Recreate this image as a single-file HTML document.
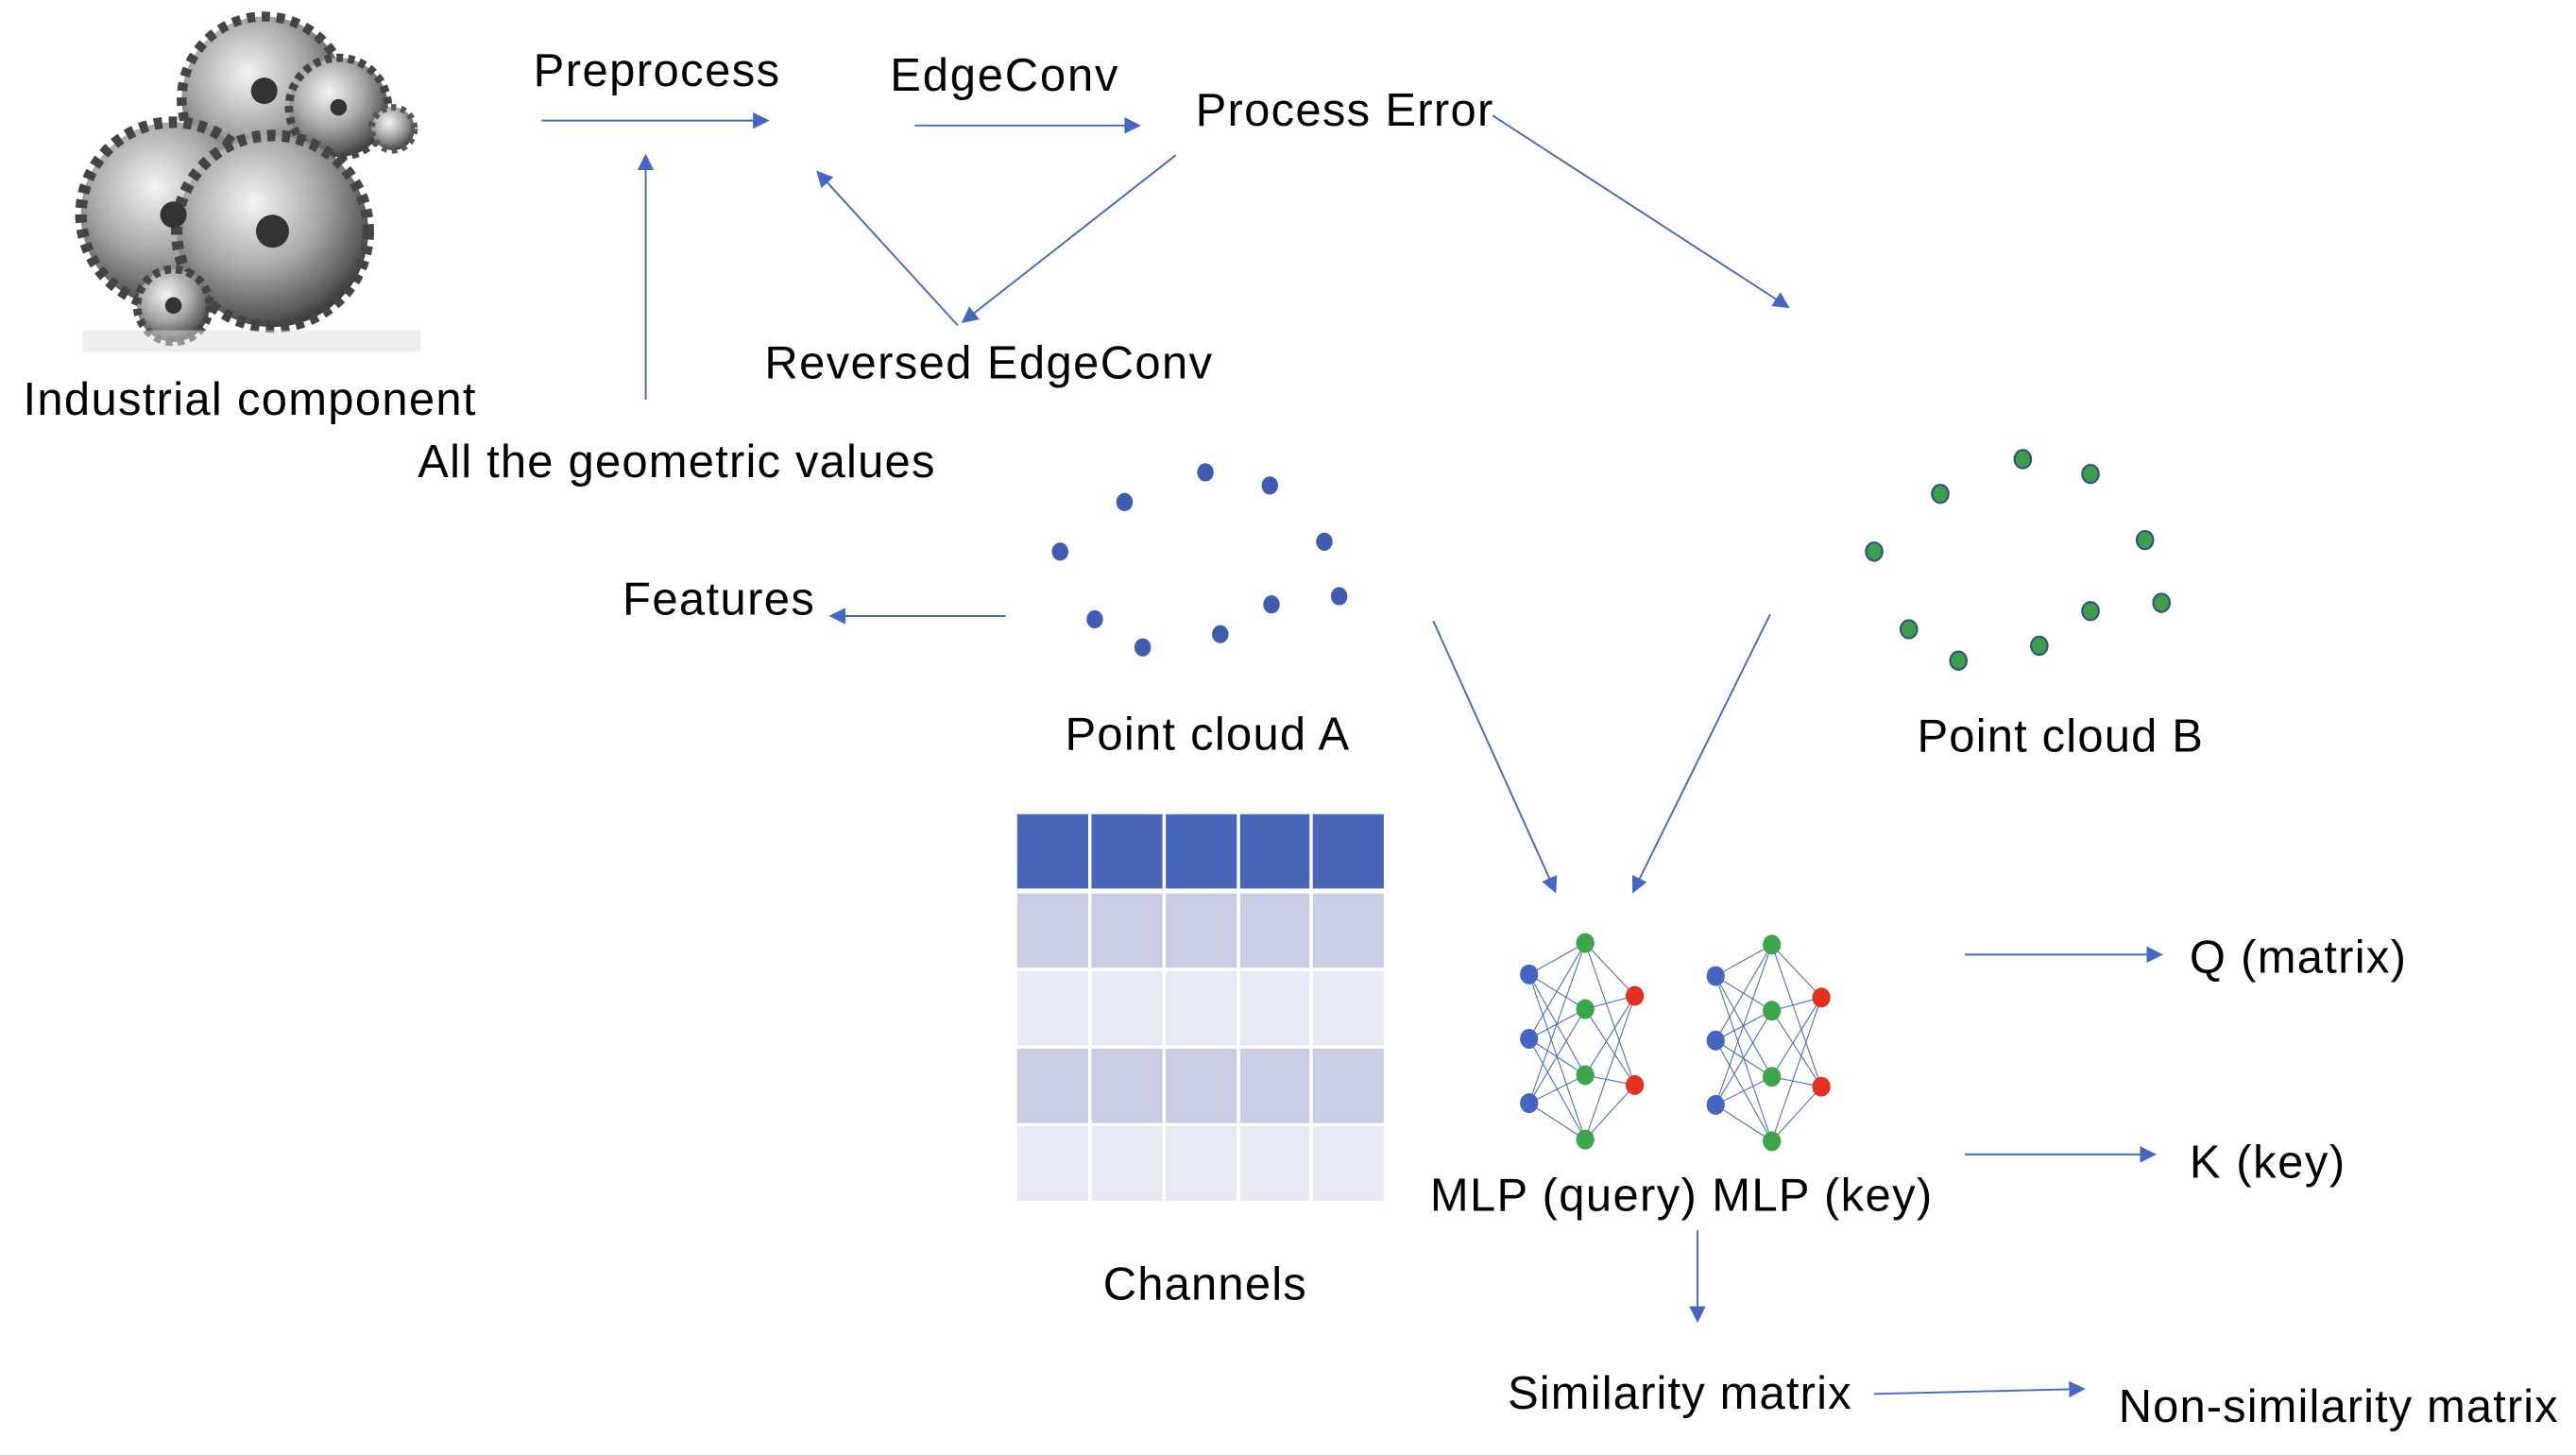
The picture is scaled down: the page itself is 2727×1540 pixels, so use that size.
<!DOCTYPE html>
<html><head><meta charset="utf-8"><style>
html,body{margin:0;padding:0;background:#fff;}
svg{display:block;}
text{font-family:"Liberation Sans",Arial,sans-serif;font-size:28px;fill:#000;}
</style></head><body>
<svg width="2727" height="1540" viewBox="0 0 1560 881" xmlns="http://www.w3.org/2000/svg">
<defs>
<marker id="ah" viewBox="0 0 10 10" refX="9" refY="5" markerWidth="10" markerHeight="10" markerUnits="userSpaceOnUse" orient="auto">
<path d="M0,0 L10,5 L0,10 z" fill="#4468C2"/></marker>
<radialGradient id="gg" cx="40%" cy="35%" r="70%">
<stop offset="0" stop-color="#f4f4f4"/><stop offset="0.5" stop-color="#a8a8a8"/><stop offset="0.85" stop-color="#5a5a5a"/><stop offset="1" stop-color="#2e2e2e"/></radialGradient>
</defs>
<rect width="1560" height="881" fill="#fff"/>
<!-- gears -->
<g>
<rect x="48" y="8" width="207" height="205" fill="#fff"/>
<circle cx="160" cy="60" r="50" fill="url(#gg)" stroke="#444" stroke-width="6" stroke-dasharray="5 4"/>
<circle cx="205" cy="65" r="30" fill="url(#gg)" stroke="#444" stroke-width="5" stroke-dasharray="4 3"/>
<circle cx="238" cy="78" r="13" fill="url(#gg)" stroke="#555" stroke-width="4" stroke-dasharray="3 3"/>
<circle cx="105" cy="130" r="56" fill="url(#gg)" stroke="#444" stroke-width="7" stroke-dasharray="5 4"/>
<circle cx="165" cy="140" r="58" fill="url(#gg)" stroke="#444" stroke-width="7" stroke-dasharray="5 4"/>
<circle cx="105" cy="185" r="22" fill="url(#gg)" stroke="#444" stroke-width="5" stroke-dasharray="4 3"/>
<circle cx="165" cy="140" r="10" fill="#333"/><circle cx="105" cy="130" r="8" fill="#333"/>
<circle cx="160" cy="55" r="8" fill="#333"/><circle cx="205" cy="65" r="5" fill="#333"/>
<circle cx="105" cy="185" r="5" fill="#333"/>
<rect x="50" y="200" width="205" height="13" fill="#ddd" opacity="0.5"/>
</g>
<!-- texts -->
<text x="323" y="52" textLength="149">Preprocess</text>
<text x="539" y="55" textLength="138">EdgeConv</text>
<text x="724" y="76" textLength="180">Process Error</text>
<text x="463" y="229" textLength="271">Reversed EdgeConv</text>
<text x="14" y="251" textLength="274">Industrial component</text>
<text x="253" y="289" textLength="313">All the geometric values</text>
<text x="377" y="372" textLength="116">Features</text>
<text x="645" y="454" textLength="172">Point cloud A</text>
<text x="1161" y="455" textLength="173">Point cloud B</text>
<text x="668" y="787" textLength="123">Channels</text>
<text x="866" y="733" textLength="304">MLP (query) MLP (key)</text>
<text x="1326" y="589" textLength="131">Q (matrix)</text>
<text x="1326" y="713" textLength="94">K (key)</text>
<text x="913" y="853" textLength="208">Similarity matrix</text>
<text x="1283" y="861" textLength="266">Non-similarity matrix</text>
<!-- arrows -->
<g stroke="#4468C2" stroke-width="1.1" fill="none" marker-end="url(#ah)">
<line x1="328" y1="73" x2="465" y2="73"/>
<line x1="554" y1="76" x2="690" y2="76"/>
<line x1="391" y1="242" x2="391" y2="94"/>
<line x1="712" y1="94" x2="583" y2="195"/>
<line x1="580" y1="197" x2="495" y2="104"/>
<line x1="904" y1="70" x2="1083" y2="186"/>
<line x1="609" y1="373" x2="503" y2="373"/>
<line x1="868" y1="376" x2="942" y2="540"/>
<line x1="1072" y1="372" x2="989" y2="540"/>
<line x1="1190" y1="578" x2="1309" y2="578"/>
<line x1="1190" y1="699" x2="1305" y2="699"/>
<line x1="1028" y1="745" x2="1028" y2="800"/>
<line x1="1135" y1="844" x2="1262" y2="841"/>
</g>
<!-- point cloud A -->
<g fill="#3F5CB0">
<ellipse cx="730" cy="286" rx="5" ry="5.5"/><ellipse cx="769" cy="294" rx="5" ry="5.5"/>
<ellipse cx="681" cy="304" rx="5" ry="5.5"/><ellipse cx="802" cy="328" rx="5" ry="5.5"/>
<ellipse cx="642" cy="334" rx="5" ry="5.5"/><ellipse cx="811" cy="361" rx="5" ry="5.5"/>
<ellipse cx="770" cy="366" rx="5" ry="5.5"/><ellipse cx="663" cy="375" rx="5" ry="5.5"/>
<ellipse cx="739" cy="384" rx="5" ry="5.5"/><ellipse cx="692" cy="392" rx="5" ry="5.5"/>
</g>
<!-- point cloud B -->
<g fill="#3E9D49" stroke="#2E4F8A" stroke-width="1.2">
<ellipse cx="1225" cy="278" rx="5" ry="5.5"/><ellipse cx="1266" cy="287" rx="5" ry="5.5"/>
<ellipse cx="1175" cy="299" rx="5" ry="5.5"/><ellipse cx="1299" cy="327" rx="5" ry="5.5"/>
<ellipse cx="1135" cy="334" rx="5" ry="5.5"/><ellipse cx="1309" cy="365" rx="5" ry="5.5"/>
<ellipse cx="1266" cy="370" rx="5" ry="5.5"/><ellipse cx="1156" cy="381" rx="5" ry="5.5"/>
<ellipse cx="1235" cy="391" rx="5" ry="5.5"/><ellipse cx="1186" cy="400" rx="5" ry="5.5"/>
</g>
<!-- table -->
<g>
<g fill="#4766B7">
<rect x="616" y="493" width="43" height="45"/><rect x="661" y="493" width="43" height="45"/><rect x="706" y="493" width="43" height="45"/><rect x="751" y="493" width="42" height="45"/><rect x="795" y="493" width="43" height="45"/>
</g>
<g fill="#C9CDE3">
<rect x="616" y="541" width="43" height="45"/><rect x="661" y="541" width="43" height="45"/><rect x="706" y="541" width="43" height="45"/><rect x="751" y="541" width="42" height="45"/><rect x="795" y="541" width="43" height="45"/>
<rect x="616" y="635" width="43" height="45"/><rect x="661" y="635" width="43" height="45"/><rect x="706" y="635" width="43" height="45"/><rect x="751" y="635" width="42" height="45"/><rect x="795" y="635" width="43" height="45"/>
</g>
<g fill="#E6E8F3">
<rect x="616" y="588" width="43" height="45"/><rect x="661" y="588" width="43" height="45"/><rect x="706" y="588" width="43" height="45"/><rect x="751" y="588" width="42" height="45"/><rect x="795" y="588" width="43" height="45"/>
<rect x="616" y="682" width="43" height="45"/><rect x="661" y="682" width="43" height="45"/><rect x="706" y="682" width="43" height="45"/><rect x="751" y="682" width="42" height="45"/><rect x="795" y="682" width="43" height="45"/>
</g>
</g>
<!-- MLP networks -->
<g id="net">
<g stroke="#4468C2" stroke-width="0.6">
<line x1="926" y1="590" x2="960" y2="571"/><line x1="926" y1="590" x2="960" y2="611"/><line x1="926" y1="590" x2="960" y2="651"/><line x1="926" y1="590" x2="960" y2="690"/>
<line x1="926" y1="629" x2="960" y2="571"/><line x1="926" y1="629" x2="960" y2="611"/><line x1="926" y1="629" x2="960" y2="651"/><line x1="926" y1="629" x2="960" y2="690"/>
<line x1="926" y1="668" x2="960" y2="571"/><line x1="926" y1="668" x2="960" y2="611"/><line x1="926" y1="668" x2="960" y2="651"/><line x1="926" y1="668" x2="960" y2="690"/>
<line x1="960" y1="571" x2="990" y2="603"/><line x1="960" y1="571" x2="990" y2="657"/>
<line x1="960" y1="611" x2="990" y2="603"/><line x1="960" y1="611" x2="990" y2="657"/>
<line x1="960" y1="651" x2="990" y2="603"/><line x1="960" y1="651" x2="990" y2="657"/>
<line x1="960" y1="690" x2="990" y2="603"/><line x1="960" y1="690" x2="990" y2="657"/>
</g>
<g fill="#4466C0"><ellipse cx="926" cy="590" rx="5.5" ry="6"/><ellipse cx="926" cy="629" rx="5.5" ry="6"/><ellipse cx="926" cy="668" rx="5.5" ry="6"/></g>
<g fill="#3EA64A"><ellipse cx="960" cy="571" rx="5.5" ry="6"/><ellipse cx="960" cy="611" rx="5.5" ry="6"/><ellipse cx="960" cy="651" rx="5.5" ry="6"/><ellipse cx="960" cy="690" rx="5.5" ry="6"/></g>
<g fill="#E5301F"><ellipse cx="990" cy="603" rx="5.5" ry="6"/><ellipse cx="990" cy="657" rx="5.5" ry="6"/></g>
</g>
<use href="#net" x="113" y="1"/>
</svg>
</body></html>
